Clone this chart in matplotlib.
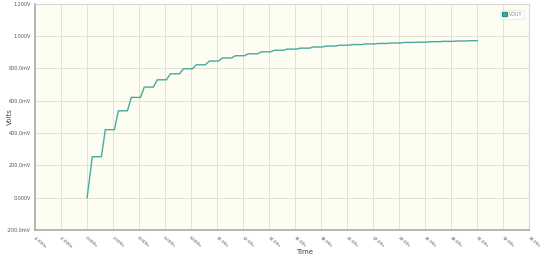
import matplotlib
matplotlib.use("Agg")
import matplotlib.pyplot as plt
from matplotlib.patches import Patch

# Step levels (V) after each pulse
levels = [0.254, 0.421, 0.538, 0.621, 0.685, 0.730, 0.767, 0.798, 0.823, 0.846,
          0.865, 0.879, 0.891, 0.903, 0.913, 0.920, 0.926, 0.933, 0.939, 0.944,
          0.948, 0.952, 0.955, 0.958, 0.961, 0.963, 0.966, 0.968, 0.970, 0.972]
pulse_start = [0.0] + [n + 0.1 for n in range(1, 30)]
pulse_end = [0.4] + [n + 0.4 for n in range(1, 30)]
t_end = 30.0

xticks = list(range(-4, 35, 2))
xticklabels = ["-4.000s", "-2.000s", "0.000s", "2.000s", "4.000s", "6.000s", "8.000s",
               "10.00s", "12.00s", "14.00s", "16.00s", "18.00s", "20.00s", "22.00s",
               "24.00s", "26.00s", "28.00s", "30.00s", "32.00s", "34.00s"]
yticks = [-0.2, 0.0, 0.2, 0.4, 0.6, 0.8, 1.0, 1.2]
yticklabels = ["-200.0mV", "0.000V", "200.0mV", "400.0mV", "600.0mV", "800.0mV",
               "1.000V", "1.200V"]

# build staircase
ts, vs = [0.0], [0.0]
prev = 0.0
for i, lv in enumerate(levels):
    ts += [pulse_start[i], pulse_end[i]]
    vs += [prev, lv]
    prev = lv
ts.append(t_end)
vs.append(prev)

fig = plt.figure(figsize=(5.4, 2.59), dpi=100)
ax = fig.add_axes([0.065, 0.112, 0.915, 0.873])
ax.set_facecolor("#fdfdf1")
ax.plot(ts, vs, color="#45aaa2", lw=1.0)

ax.set_xlim(-4, 34)
ax.set_ylim(-0.2, 1.2)
ax.set_xticks(xticks)
ax.set_xticklabels(xticklabels, rotation=-40, ha="left", rotation_mode="anchor",
                   fontsize=3.2, color="#555555")
ax.set_yticks(yticks)
ax.set_yticklabels(yticklabels, fontsize=3.5, color="#555555")
ax.tick_params(axis="x", length=0, pad=4)
ax.tick_params(axis="y", length=0, pad=3)
ax.grid(True, color="#e2e2d8", lw=0.7)
ax.set_axisbelow(True)
for s in ["top", "right"]:
    ax.spines[s].set_color("#d8d8d8")
    ax.spines[s].set_linewidth(0.8)
for s in ["left", "bottom"]:
    ax.spines[s].set_color("#aaaaaa")
    ax.spines[s].set_linewidth(1.2)

ax.set_xlabel("Time", fontsize=5, color="#444444")
ax.xaxis.set_label_coords(0.545, -0.085)
ax.set_ylabel("Volts", fontsize=5, color="#444444")
ax.yaxis.set_label_coords(-0.045, 0.5)

leg = ax.legend(handles=[Patch(facecolor="#45aaa2", edgecolor="#2f8f88", label="VOUT")],
                loc="upper right", fontsize=3.5, frameon=True, handlelength=1.0,
                handleheight=1.0, borderpad=0.4, handletextpad=0.4,
                bbox_to_anchor=(0.995, 0.985))
leg.get_frame().set_edgecolor("#dddddd")
leg.get_frame().set_linewidth(0.5)
for txt in leg.get_texts():
    txt.set_color("#888888")

fig.savefig("out.png", dpi=100, facecolor="white")
